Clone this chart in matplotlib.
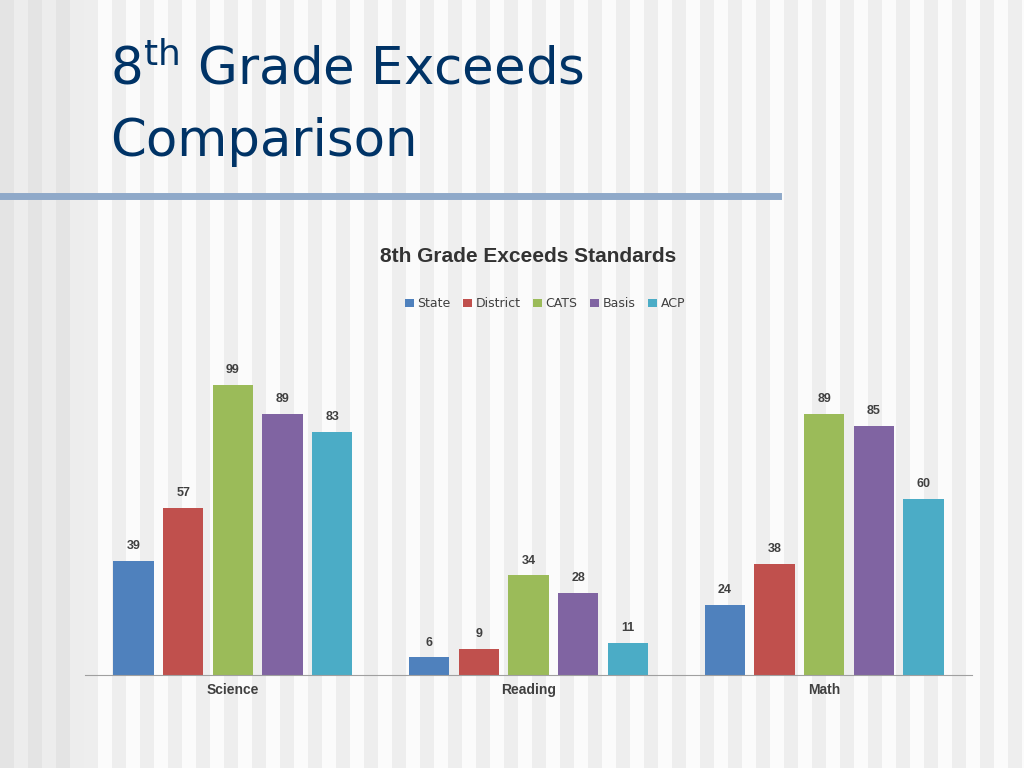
import matplotlib
matplotlib.use('Agg')
import matplotlib.pyplot as plt
from matplotlib.patches import Rectangle
import numpy as np

categories = ['Science', 'Reading', 'Math']
series = ['State', 'District', 'CATS', 'Basis', 'ACP']
values = {
    'State': [39, 6, 24],
    'District': [57, 9, 38],
    'CATS': [99, 34, 89],
    'Basis': [89, 28, 85],
    'ACP': [83, 11, 60],
}
colors = ['#4F81BD', '#C0504D', '#9BBB59', '#8064A2', '#4BACC6']

W, H = 1024, 768
fig = plt.figure(figsize=(W / 100, H / 100), dpi=100)
fig.patch.set_facecolor('white')

# striped slide background
for i, x0 in enumerate(range(0, W, 14)):
    c = '#eeeeee' if i % 2 == 0 else '#fbfbfb'
    if x0 < 75:
        c = '#e4e4e4' if i % 2 == 0 else '#ededed'
    fig.patches.append(Rectangle((x0 / W, 0), 14 / W, 1, transform=fig.transFigure,
                                 facecolor=c, edgecolor='none', zorder=-10))

# slide title
fig.text(110 / W, 1 - 70 / H, r'8$^{\mathregular{th}}$ Grade Exceeds', fontsize=37,
         color='#003366', va='center', ha='left', family='DejaVu Sans')
fig.text(110 / W, 1 - 142 / H, 'Comparison', fontsize=37, color='#003366',
         va='center', ha='left', family='DejaVu Sans')
fig.add_artist(plt.Line2D([0, 778 / W], [1 - 196 / H] * 2, transform=fig.transFigure,
                          color='#8fa9c9', lw=5))

# chart
ax_l, ax_r, ax_b = 85, 972, 675
ax_t = ax_b - 120 * 2.93
ax = fig.add_axes([ax_l / W, 1 - ax_b / H, (ax_r - ax_l) / W, (ax_b - ax_t) / H])
ax.set_facecolor('none')
x = np.arange(len(categories))
step = 0.168
width = 0.136
for i, (name, col) in enumerate(zip(series, colors)):
    pos = x + (i - 2) * step
    bars = ax.bar(pos, values[name], width, color=col, label=name, zorder=2)
    for b, v in zip(bars, values[name]):
        ax.text(b.get_x() + b.get_width() / 2, v + 3, str(v), ha='center', va='bottom',
                fontsize=9, fontweight='bold', color='#404040', family='Liberation Sans')

ax.set_xlim(-0.5, 2.5)
ax.set_ylim(0, 120)
ax.set_yticks([])
ax.set_xticks(x)
ax.set_xticklabels(categories, fontsize=10, fontweight='bold', color='#404040',
                   family='Liberation Sans')
ax.tick_params(axis='x', length=0, pad=6)
for s in ['top', 'right', 'left']:
    ax.spines[s].set_visible(False)
ax.spines['bottom'].set_color('#a0a0a0')

fig.text(528 / W, 1 - 256 / H, '8th Grade Exceeds Standards', fontsize=15,
         fontweight='bold', color='#333333', ha='center', va='center',
         family='Liberation Sans')
leg = fig.legend(loc='center', bbox_to_anchor=(545 / W, 1 - 304 / H), ncol=5,
                 frameon=False, fontsize=9, handlelength=0.7, handleheight=0.7,
                 handletextpad=0.3, columnspacing=1.0)
for t in leg.get_texts():
    t.set_color('#404040')

fig.savefig('out.png', dpi=100)
